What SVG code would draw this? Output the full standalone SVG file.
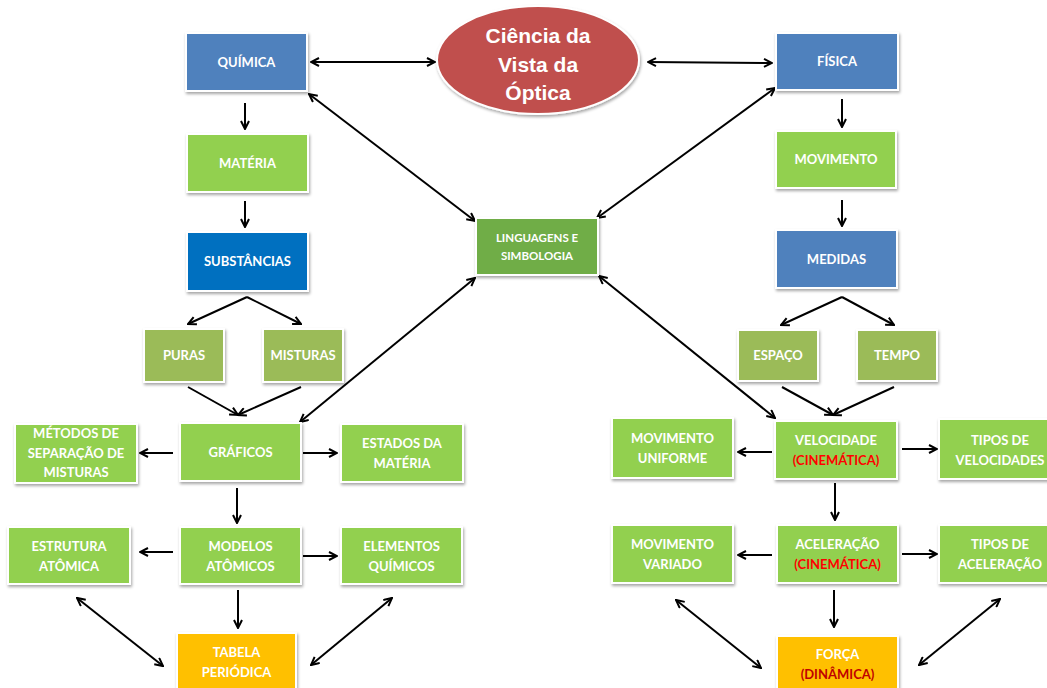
<svg xmlns="http://www.w3.org/2000/svg" width="1047" height="688" viewBox="0 0 1047 688">
  <defs>
    <filter id="shadow" x="-10%" y="-10%" width="130%" height="140%">
      <feDropShadow dx="1" dy="2" stdDeviation="1.5" flood-color="#000" flood-opacity="0.35"/>
    </filter>
    <marker id="head" viewBox="0 0 10 10" refX="9" refY="5" markerWidth="10" markerHeight="10" markerUnits="userSpaceOnUse" orient="auto-start-reverse">
      <path d="M1,1 L9,5 L1,9" fill="none" stroke="#000" stroke-width="2"/>
    </marker>
  </defs>
  <style>
    .box { stroke: #fff; stroke-width: 2; filter: url(#shadow); }
    .blue { fill: #4F81BD; }
    .dblue { fill: #0070C0; }
    .green { fill: #92D050; }
    .olive { fill: #9BBB59; }
    .dgreen { fill: #70AD47; }
    .gold { fill: #FFC000; }
    .lbl { font-family: Lato, "Open Sans", "Liberation Sans", sans-serif; font-weight: bold; font-size: 13px; fill: #fff; text-anchor: middle; }
    .small { font-size: 11.5px; }
    .red { fill: #FF0000; }
    .dred { fill: #C00000; }
    .title { font-family: "Liberation Sans", Arial, sans-serif; font-weight: bold; font-size: 21px; fill: #fff; text-anchor: middle; }
    .c { fill: none; stroke: #000; stroke-width: 2; marker-end: url(#head); }
    .cc { fill: none; stroke: #000; stroke-width: 2; marker-end: url(#head); marker-start: url(#head); }
  </style>

  <!-- connectors -->
  <g id="connectors">
    <line class="cc" x1="311" y1="62" x2="435" y2="62"/>
    <line class="cc" x1="648" y1="62" x2="772" y2="63"/>
    <line class="c" x1="245" y1="103" x2="245" y2="129"/>
    <line class="c" x1="245" y1="201" x2="245" y2="227"/>
    <line class="cc" x1="309" y1="94" x2="475" y2="221"/>
    <line class="cc" x1="775" y1="88" x2="597" y2="218"/>
    <line class="cc" x1="599" y1="276" x2="775" y2="418"/>
    <line class="cc" x1="475" y1="278" x2="300" y2="422"/>
    <!-- substâncias split -->
    <line class="c" x1="247" y1="297" x2="188" y2="324"/>
    <line class="c" x1="247" y1="297" x2="301" y2="324"/>
    <!-- puras / misturas join -->
    <line class="c" x1="188" y1="387" x2="238" y2="415"/>
    <line class="c" x1="301" y1="387" x2="238" y2="415"/>
    <line class="c" x1="173" y1="453" x2="140" y2="453"/>
    <line class="c" x1="303" y1="453" x2="337" y2="453"/>
    <line class="c" x1="237" y1="488" x2="237" y2="523"/>
    <line class="c" x1="173" y1="552" x2="140" y2="552"/>
    <line class="c" x1="303" y1="556" x2="337" y2="556"/>
    <line class="c" x1="238" y1="590" x2="238" y2="628"/>
    <line class="cc" x1="77" y1="598" x2="163" y2="666"/>
    <line class="cc" x1="392" y1="598" x2="311" y2="665"/>
    <!-- física side -->
    <line class="c" x1="842" y1="99" x2="842" y2="127"/>
    <line class="c" x1="842" y1="200" x2="842" y2="226"/>
    <line class="c" x1="842" y1="297" x2="781" y2="325"/>
    <line class="c" x1="842" y1="297" x2="894" y2="325"/>
    <line class="c" x1="782" y1="387" x2="833" y2="415"/>
    <line class="c" x1="894" y1="387" x2="833" y2="415"/>
    <line class="c" x1="772" y1="452" x2="738" y2="452"/>
    <line class="c" x1="902" y1="449" x2="937" y2="449"/>
    <line class="c" x1="835" y1="483" x2="835" y2="520"/>
    <line class="c" x1="772" y1="555" x2="738" y2="555"/>
    <line class="c" x1="902" y1="554" x2="937" y2="554"/>
    <line class="c" x1="834" y1="590" x2="834" y2="627"/>
    <line class="cc" x1="676" y1="600" x2="761" y2="668"/>
    <line class="cc" x1="1000" y1="599" x2="919" y2="665"/>
  </g>

  <g id="ciencia">
    <ellipse cx="538" cy="60" rx="101" ry="54" fill="#C0504D" stroke="#fff" stroke-width="2" filter="url(#shadow)"/>
    <text class="title" x="538" y="43">Ciência da</text>
    <text class="title" x="538" y="72">Vista da</text>
    <text class="title" x="538" y="100">Óptica</text>
  </g>

  <g id="quimica">
    <rect class="box blue" x="186" y="33" width="121" height="58"/>
    <text class="lbl" x="246.5" y="67">QUÍMICA</text>
  </g>
  <g id="materia">
    <rect class="box green" x="187" y="134" width="121" height="58"/>
    <text class="lbl" x="247.5" y="168">MATÉRIA</text>
  </g>
  <g id="substancias">
    <rect class="box dblue" x="187" y="232" width="121" height="59"/>
    <text class="lbl" x="247.5" y="266">SUBSTÂNCIAS</text>
  </g>
  <g id="puras">
    <rect class="box olive" x="144" y="329" width="80" height="53"/>
    <text class="lbl" x="184" y="360">PURAS</text>
  </g>
  <g id="misturas">
    <rect class="box olive" x="263" y="329" width="80" height="53"/>
    <text class="lbl" x="303" y="360">MISTURAS</text>
  </g>
  <g id="graficos">
    <rect class="box green" x="180" y="423" width="121" height="58"/>
    <text class="lbl" x="240.5" y="457">GRÁFICOS</text>
  </g>
  <g id="metodos">
    <rect class="box green" x="15" y="424" width="122" height="59"/>
    <text class="lbl" x="76" y="438">MÉTODOS DE</text>
    <text class="lbl" x="76" y="458">SEPARAÇÃO DE</text>
    <text class="lbl" x="76" y="477">MISTURAS</text>
  </g>
  <g id="estados">
    <rect class="box green" x="341" y="424" width="122" height="58"/>
    <text class="lbl" x="402" y="448">ESTADOS DA</text>
    <text class="lbl" x="402" y="468">MATÉRIA</text>
  </g>
  <g id="modelos">
    <rect class="box green" x="180" y="527" width="121" height="57"/>
    <text class="lbl" x="240.5" y="551">MODELOS</text>
    <text class="lbl" x="240.5" y="571">ATÔMICOS</text>
  </g>
  <g id="estrutura">
    <rect class="box green" x="8" y="527" width="122" height="57"/>
    <text class="lbl" x="69" y="551">ESTRUTURA</text>
    <text class="lbl" x="69" y="571">ATÔMICA</text>
  </g>
  <g id="elementos">
    <rect class="box green" x="341" y="527" width="121" height="57"/>
    <text class="lbl" x="401.5" y="551">ELEMENTOS</text>
    <text class="lbl" x="401.5" y="571">QUÍMICOS</text>
  </g>
  <g id="tabela">
    <rect class="box gold" x="177" y="633" width="119" height="62"/>
    <text class="lbl" x="236.5" y="657">TABELA</text>
    <text class="lbl" x="236.5" y="677">PERIÓDICA</text>
  </g>
  <g id="linguagens">
    <rect class="box dgreen" x="476" y="218" width="122" height="57"/>
    <text class="lbl small" x="537" y="242">LINGUAGENS E</text>
    <text class="lbl small" x="537" y="260">SIMBOLOGIA</text>
  </g>

  <g id="fisica">
    <rect class="box blue" x="776" y="33" width="122" height="57"/>
    <text class="lbl" x="837" y="66">FÍSICA</text>
  </g>
  <g id="movimento">
    <rect class="box green" x="776" y="131" width="120" height="57"/>
    <text class="lbl" x="836" y="164">MOVIMENTO</text>
  </g>
  <g id="medidas">
    <rect class="box blue" x="776" y="230" width="121" height="58"/>
    <text class="lbl" x="836.5" y="264">MEDIDAS</text>
  </g>
  <g id="espaco">
    <rect class="box olive" x="738" y="330" width="80" height="51"/>
    <text class="lbl" x="778" y="360">ESPAÇO</text>
  </g>
  <g id="tempo">
    <rect class="box olive" x="857" y="330" width="80" height="51"/>
    <text class="lbl" x="897" y="360">TEMPO</text>
  </g>
  <g id="velocidade">
    <rect class="box green" x="775" y="421" width="122" height="58"/>
    <text class="lbl" x="836" y="445">VELOCIDADE</text>
    <text class="lbl red" x="836" y="465">(CINEMÁTICA)</text>
  </g>
  <g id="movimento-uniforme">
    <rect class="box green" x="612" y="418" width="121" height="60"/>
    <text class="lbl" x="672.5" y="443">MOVIMENTO</text>
    <text class="lbl" x="672.5" y="463">UNIFORME</text>
  </g>
  <g id="tipos-velocidades">
    <rect class="box green" x="939" y="419" width="122" height="60"/>
    <text class="lbl" x="1000" y="445">TIPOS DE</text>
    <text class="lbl" x="1000" y="465">VELOCIDADES</text>
  </g>
  <g id="aceleracao">
    <rect class="box green" x="777" y="525" width="121" height="58"/>
    <text class="lbl" x="837.5" y="549">ACELERAÇÃO</text>
    <text class="lbl red" x="837.5" y="569">(CINEMÁTICA)</text>
  </g>
  <g id="movimento-variado">
    <rect class="box green" x="612" y="525" width="121" height="58"/>
    <text class="lbl" x="672.5" y="549">MOVIMENTO</text>
    <text class="lbl" x="672.5" y="569">VARIADO</text>
  </g>
  <g id="tipos-aceleracao">
    <rect class="box green" x="939" y="525" width="122" height="58"/>
    <text class="lbl" x="1000" y="549">TIPOS DE</text>
    <text class="lbl" x="1000" y="569">ACELERAÇÃO</text>
  </g>
  <g id="forca">
    <rect class="box gold" x="777" y="636" width="121" height="60"/>
    <text class="lbl" x="837.5" y="659">FORÇA</text>
    <text class="lbl dred" x="837.5" y="679">(DINÂMICA)</text>
  </g>
</svg>
